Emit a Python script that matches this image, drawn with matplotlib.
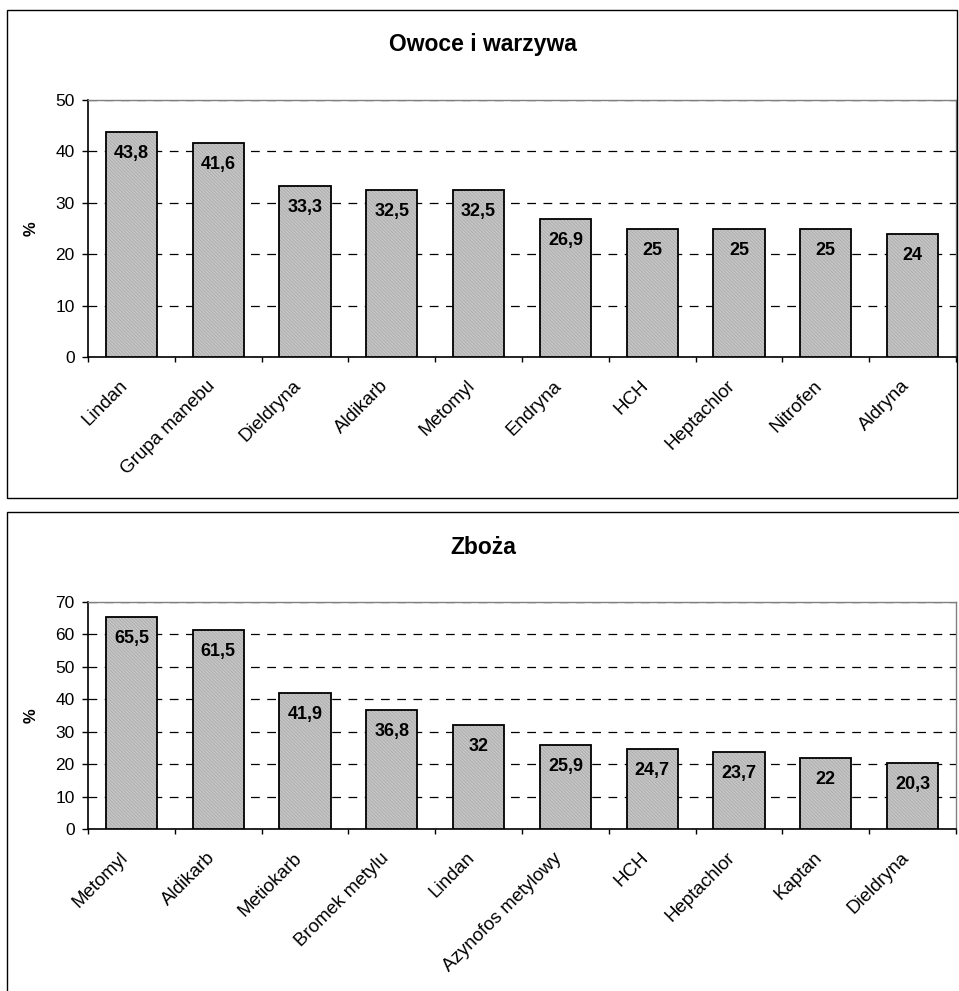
import matplotlib
matplotlib.use("Agg")
import matplotlib.pyplot as plt
from matplotlib.patches import Rectangle

plt.rcParams['font.family'] = ['Liberation Sans', 'DejaVu Sans']
plt.rcParams['hatch.linewidth'] = 0.5

# Owoce i warzywa
fruit_names = ["Lindan", "Grupa manebu", "Dieldryna", "Aldikarb", "Metomyl",
               "Endryna", "HCH", "Heptachlor", "Nitrofen", "Aldryna"]
fruit_values = [43.8, 41.6, 33.3, 32.5, 32.5, 26.9, 25, 25, 25, 24]

# Zboża
grain_names = ["Metomyl", "Aldikarb", "Metiokarb", "Bromek metylu", "Lindan",
               "Azynofos metylowy", "HCH", "Heptachlor", "Kaptan", "Dieldryna"]
grain_values = [65.5, 61.5, 41.9, 36.8, 32, 25.9, 24.7, 23.7, 22, 20.3]

fig = plt.figure(figsize=(9.59, 9.91), dpi=100)

# panel frames
fig.patches.append(Rectangle((7 / 959, 1 - 498 / 991), 950 / 959, 488 / 991,
                             transform=fig.transFigure, fill=False,
                             edgecolor='black', linewidth=1.0))
fig.patches.append(Rectangle((7 / 959, -0.2), 1.2, 0.2 + 1 - 512 / 991,
                             transform=fig.transFigure, fill=False,
                             edgecolor='black', linewidth=1.0))


def draw_panel(rect, names, values, ymax, title, title_y):
    ax = fig.add_axes(rect)
    x = range(len(names))
    # textured fill (hatch takes the edge colour), then the black outline
    ax.bar(x, values, width=0.59, facecolor='#c6c6c6', edgecolor='#a6a6a6',
           linewidth=0, hatch='\\\\\\\\\\\\\\\\\\\\', zorder=3)
    ax.bar(x, values, width=0.59, fill=False, edgecolor='black',
           linewidth=1.3, zorder=3)
    for xi, v in zip(x, values):
        ax.annotate(f"{v:g}".replace('.', ','), (xi, v), xytext=(0, -15.5),
                    textcoords='offset points', ha='center', va='center',
                    fontsize=13, fontweight='bold', zorder=4)
    ax.set_xlim(-0.5, len(names) - 0.5)
    ax.set_ylim(0, ymax)
    ax.set_yticks(range(0, ymax + 1, 10))
    ax.yaxis.grid(True, color='black', linewidth=0.9, linestyle=(0, (7, 6)))
    ax.set_axisbelow(True)
    ax.tick_params(axis='y', direction='out', length=4.5, width=1,
                   labelsize=12.5, pad=5)
    # labels sit a little left of the bar centres
    ax.set_xticks([i - 0.07 for i in x])
    ax.set_xticklabels(names, rotation=45, ha='right', va='center',
                       rotation_mode='anchor', fontsize=13.5)
    ax.tick_params(axis='x', which='major', length=0, pad=19)
    ax.set_xticks([i - 0.5 for i in range(len(names) + 1)], minor=True)
    ax.tick_params(axis='x', which='minor', direction='out', length=3.5,
                   width=1)
    for side in ('left', 'bottom'):
        ax.spines[side].set_color('black')
        ax.spines[side].set_linewidth(1.2)
    for side in ('top', 'right'):
        ax.spines[side].set_color('#808080')
        ax.spines[side].set_linewidth(1.0)
    ax.set_ylabel('%', fontsize=12, fontweight='bold', labelpad=12)
    fig.text(483 / 959, 1 - title_y / 991, title, ha='center', va='center',
             fontsize=16.5, fontweight='bold')
    return ax


draw_panel([88 / 959, 1 - 357 / 991, 868 / 959, 257 / 991],
           fruit_names, fruit_values, 50, "Owoce i warzywa", 45)
draw_panel([88 / 959, 1 - 829 / 991, 868 / 959, 227 / 991],
           grain_names, grain_values, 70, "Zboża", 547)

fig.savefig("out.png", dpi=100)
